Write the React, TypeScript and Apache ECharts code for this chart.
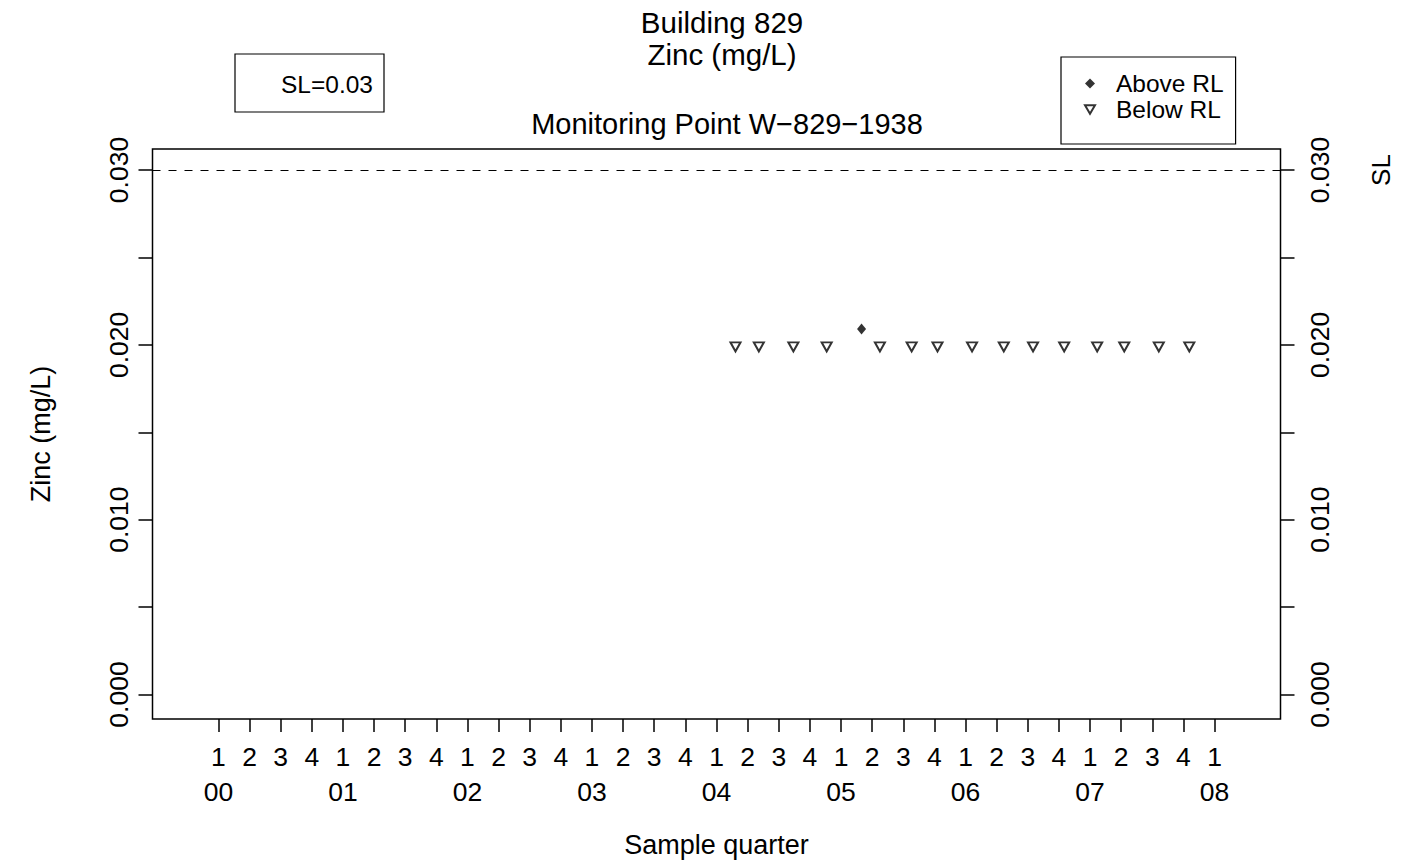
import React, { useEffect, useRef } from "react";
import * as echarts from "echarts";

// ---- data ----
const quarterTicks = [0, 1, 2, 3, 4, 5, 6, 7, 8, 9, 10, 11, 12, 13, 14, 15, 16, 17, 18, 19, 20, 21, 22, 23, 24, 25, 26, 27, 28, 29, 30, 31, 32];
const quarterLabels = ["1", "2", "3", "4"];
const yearTicks = [0, 4, 8, 12, 16, 20, 24, 28, 32];
const yearLabels = ["00", "01", "02", "03", "04", "05", "06", "07", "08"];
const belowRLQuarter = [16.61, 17.36, 18.47, 19.54, 21.25, 22.27, 23.1, 24.21, 25.23, 26.17, 27.17, 28.23, 29.1, 30.21, 31.19];
const belowRLValue = [0.02, 0.02, 0.02, 0.02, 0.02, 0.02, 0.02, 0.02, 0.02, 0.02, 0.02, 0.02, 0.02, 0.02, 0.02];
const aboveRLQuarter = [20.66];
const aboveRLValue = [0.0209];
const screeningLevel = 0.03;
const yTickValues = [0, 0.005, 0.01, 0.015, 0.02, 0.025, 0.03];
const yLabelValues = [0, 0.01, 0.02, 0.03];

const FONT = "Liberation Sans, Arial, Helvetica, sans-serif";
const TRI = "path://M0,0L10,0L5,8.66Z";

export default function App() {
  const ref = useRef<HTMLDivElement>(null);
  useEffect(() => {
    if (!ref.current) return;
    const chart = echarts.init(ref.current, undefined, { renderer: "svg" });
    const belowData = belowRLQuarter.map((q, i) => [q, belowRLValue[i]]);
    const aboveData = aboveRLQuarter.map((q, i) => [q, aboveRLValue[i]]);
    const axisFont = { color: "#000", fontSize: 26.5, fontFamily: FONT };
    const nameFont = { color: "#000", fontSize: 27, fontFamily: FONT };
    const tickStyle = { color: "#000", width: 1.5 };
    const yCommon = (margin: number) => ({
      type: "value",
      min: -0.0014,
      max: 0.0312,
      axisLine: { show: false, onZero: false },
      splitLine: { show: false },
      axisTick: { show: true, customValues: yTickValues, length: 14, lineStyle: tickStyle },
      axisLabel: {
        ...axisFont,
        customValues: yLabelValues,
        formatter: (v: number) => v.toFixed(3),
        rotate: 90,
        margin,
      },
    });
    chart.setOption({
      animation: false,
      backgroundColor: "#fff",
      grid: {
        left: 152.5,
        right: 122.5,
        top: 149,
        bottom: 146,
        show: true,
        borderColor: "#000",
        borderWidth: 1.5,
        backgroundColor: "transparent",
      },
      legend: {
        orient: "vertical",
        left: 1061,
        top: 57,
        data: [
          { name: "Above RL", icon: "diamond" },
          { name: "Below RL", icon: TRI },
        ],
        itemWidth: 10,
        itemHeight: 10,
        itemGap: 1,
        borderColor: "#000",
        borderWidth: 1.2,
        padding: [14, 12, 22, 23],
        selectedMode: false,
        textStyle: { color: "#000", fontFamily: FONT, fontSize: 24.5, lineHeight: 25, padding: [0, 0, 0, 16] },
      },
      xAxis: [
        {
          type: "value",
          min: -2.12,
          max: 34.12,
          position: "bottom",
          axisLine: { show: false, onZero: false },
          splitLine: { show: false },
          axisTick: { show: true, customValues: quarterTicks, length: 13, lineStyle: tickStyle },
          axisLabel: {
            ...axisFont,
            customValues: quarterTicks,
            formatter: (v: number) => quarterLabels[Math.round(v) % 4],
            margin: 24,
          },
          name: "Sample quarter",
          nameLocation: "middle",
          nameGap: 112,
          nameTextStyle: nameFont,
        },
        {
          type: "value",
          min: -2.12,
          max: 34.12,
          position: "bottom",
          offset: 0,
          axisLine: { show: false, onZero: false },
          splitLine: { show: false },
          axisTick: { show: false },
          axisLabel: {
            ...axisFont,
            customValues: yearTicks,
            formatter: (v: number) => yearLabels[Math.round(v / 4)],
            margin: 59,
          },
        },
      ],
      yAxis: [
        {
          ...yCommon(20),
          position: "left",
          name: "Zinc (mg/L)",
          nameLocation: "middle",
          nameGap: 98,
          nameTextStyle: nameFont,
        },
        { ...yCommon(26), position: "right" },
      ],
      series: [
        {
          name: "SL",
          type: "scatter",
          data: [],
          markLine: {
            silent: true,
            symbol: ["none", "none"],
            label: { show: false },
            lineStyle: { type: [8, 8], color: "#000", width: 1 },
            data: [{ yAxis: screeningLevel }],
          },
        },
        {
          name: "Below RL",
          type: "scatter",
          data: belowData,
          symbol: TRI,
          symbolSize: [10, 9],
          symbolOffset: [0, 2],
          itemStyle: { color: "#fff", borderColor: "#000", borderWidth: 2 },
        },
        {
          name: "Above RL",
          type: "scatter",
          data: aboveData,
          symbol: "diamond",
          symbolSize: [9, 11],
          itemStyle: { color: "#000" },
        },
      ],
      graphic: [
        {
          type: "text",
          x: 722,
          y: 22,
          style: { text: "Building 829", font: `29.5px ${FONT}`, fill: "#000", textAlign: "center", textVerticalAlign: "middle" },
        },
        {
          type: "text",
          x: 722,
          y: 54,
          style: { text: "Zinc (mg/L)", font: `29.5px ${FONT}`, fill: "#000", textAlign: "center", textVerticalAlign: "middle" },
        },
        {
          type: "text",
          x: 727,
          y: 124,
          style: { text: "Monitoring Point W\u2212829\u22121938", font: `29px ${FONT}`, fill: "#000", textAlign: "center", textVerticalAlign: "middle" },
        },
        {
          type: "rect",
          shape: { x: 235, y: 54, width: 149, height: 58 },
          style: { fill: "none", stroke: "#000", lineWidth: 1.2 },
        },
        {
          type: "text",
          x: 373,
          y: 84,
          style: { text: "SL=0.03", font: `24.5px ${FONT}`, fill: "#000", textAlign: "right", textVerticalAlign: "middle" },
        },
        {
          type: "text",
          x: 1381,
          y: 170,
          rotation: Math.PI / 2,
          style: { text: "SL", font: `26px ${FONT}`, fill: "#000", textAlign: "center", textVerticalAlign: "middle" },
        },
      ],
    });
    return () => chart.dispose();
  }, []);
  return (
    <div
      ref={ref}
      style={{ position: "fixed", left: 0, top: 0, width: 1403, height: 865, background: "#fff" }}
    />
  );
}
